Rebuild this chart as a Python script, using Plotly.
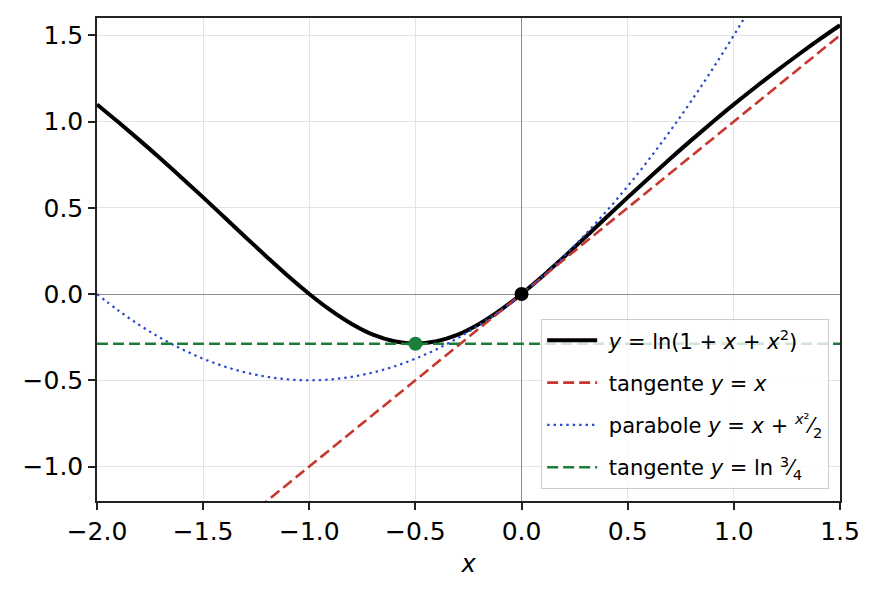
import plotly.graph_objects as go

# x grid (step 0.1) and values
x_vals = [-2.0, -1.9, -1.8, -1.7, -1.6, -1.5, -1.4, -1.3, -1.2, -1.1,
          -1.0, -0.9, -0.8, -0.7, -0.6, -0.5, -0.4, -0.3, -0.2, -0.1,
          0.0, 0.1, 0.2, 0.3, 0.4, 0.5, 0.6, 0.7, 0.8, 0.9,
          1.0, 1.1, 1.2, 1.3, 1.4, 1.5]
curve_y = [1.099, 0.997, 0.892, 0.784, 0.673, 0.560, 0.445, 0.329, 0.215, 0.104,
           0.000, -0.094, -0.174, -0.236, -0.274, -0.288, -0.274, -0.236, -0.174, -0.094,
           0.000, 0.104, 0.215, 0.329, 0.445, 0.560, 0.673, 0.784, 0.892, 0.997,
           1.099, 1.197, 1.292, 1.384, 1.473, 1.558]

par_x = x_vals[:33]
par_y = [0.000, -0.095, -0.180, -0.255, -0.320, -0.375, -0.420, -0.455, -0.480, -0.495,
         -0.500, -0.495, -0.480, -0.455, -0.420, -0.375, -0.320, -0.255, -0.180, -0.095,
         0.000, 0.105, 0.220, 0.345, 0.480, 0.625, 0.780, 0.945, 1.120, 1.305,
         1.500, 1.705, 1.920]

tan_x = [-2.0, 1.5]
tan_y = [-2.0, 1.5]

hor_x = [-2.0, 1.5]
hor_y = [-0.288, -0.288]

pts_x = [0.0, -0.5]
pts_y = [0.0, -0.288]
pts_color = ['black', '#1b7f3b']

fig = go.Figure()
fig.add_trace(go.Scatter(x=x_vals, y=curve_y, mode='lines', line_shape='spline',
                         line=dict(color='black', width=4), legendgroup='a',
                         name=' <i>y</i> = ln(1 + <i>x</i> + <i>x</i><sup>2</sup>)'))
fig.add_trace(go.Scatter(x=tan_x, y=tan_y, mode='lines', legendgroup='b',
                         line=dict(color='#c8372d', width=2.6, dash='11px,5px'),
                         name=' tangente <i>y</i> = <i>x</i>'))
fig.add_trace(go.Scatter(x=par_x, y=par_y, mode='lines', line_shape='spline',
                         line=dict(color='#2a48cc', width=2.2, dash='2.4px,4px'),
                         legendgroup='c',
                         name=' parabole <i>y</i> = <i>x</i> + <sup><i>x</i>²</sup>⁄<sub>2</sub>'))
fig.add_trace(go.Scatter(x=hor_x, y=hor_y, mode='lines', legendgroup='d',
                         line=dict(color='#1b7f3b', width=2.6, dash='11px,5px'),
                         name=' tangente <i>y</i> = ln <sup>3</sup>⁄<sub>4</sub>'))
fig.add_trace(go.Scatter(x=pts_x, y=pts_y, mode='markers', showlegend=False,
                         marker=dict(color=pts_color, size=14)))

axis_common = dict(showline=True, mirror=True, linecolor='#222', linewidth=1.5,
                   ticks='outside', ticklen=7, tickwidth=1.5, tickcolor='#222',
                   showgrid=True, gridcolor='#e4e4e4', gridwidth=1,
                   zeroline=True, zerolinecolor='#8c8c8c', zerolinewidth=1.3,
                   tickformat='.1f', tickfont=dict(size=25, color='black'))

fig.update_layout(
    width=876, height=592,
    margin=dict(l=89, r=44, t=8, b=99),
    paper_bgcolor='white', plot_bgcolor='white',
    font=dict(family='DejaVu Sans', color='black'),
    xaxis=dict(range=[-2.0, 1.5], dtick=0.5, tick0=0,
               title=dict(text='<i>x</i>', font=dict(size=24), standoff=10),
               **axis_common),
    yaxis=dict(range=[-1.2, 1.6], dtick=0.5, tick0=0, **axis_common),
    legend=dict(x=0.985, y=0.025, xanchor='right', yanchor='bottom',
                bgcolor='rgba(255,255,255,0.8)', bordercolor='#cccccc', borderwidth=1.3,
                font=dict(size=21), itemwidth=50, tracegroupgap=12),
)

fig.write_html("out.html")
